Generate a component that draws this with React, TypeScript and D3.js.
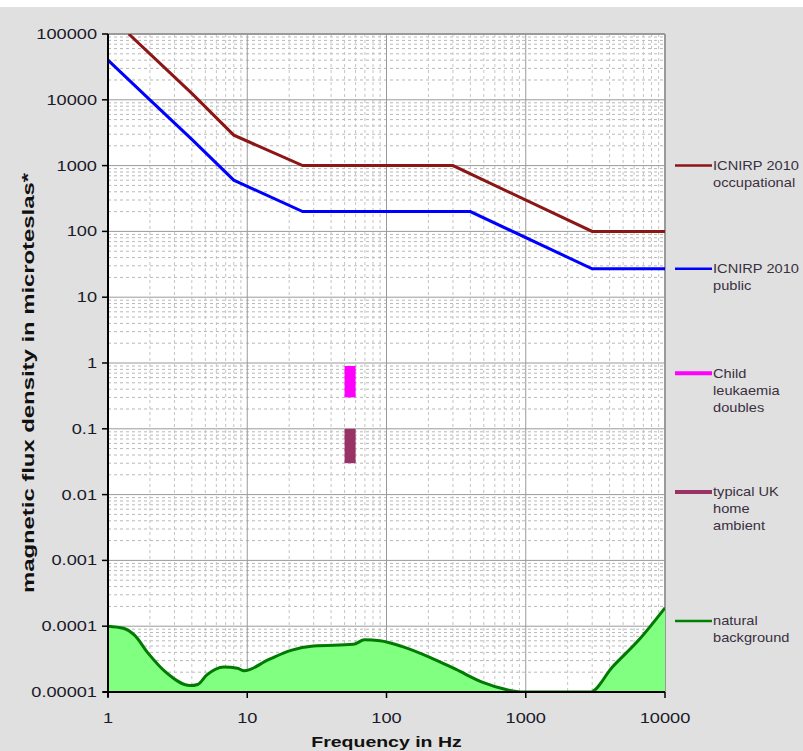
import React from 'react';
import * as d3 from 'd3';

// frequency (Hz) / flux density (microtesla)
const occFreq = [1.41, 2, 4, 8, 25, 300, 3000, 10000];
const occVal = [100000, 50000, 12500, 2900, 1000, 1000, 100, 100];

const pubFreq = [1, 2, 4, 8, 25, 400, 3000, 10000];
const pubVal = [40000, 10000, 2500, 600, 200, 200, 27, 27];

const natFreq = [1, 1.29, 1.55, 1.94, 2.6, 3.9, 4.4, 5.1, 6.8, 8.5, 9.5, 14.2, 20.6, 29.8, 57.8, 69.6, 89.8, 130, 203, 316, 492, 710, 955, 2900, 4190, 6500, 10000];
const natVal = [1e-4, 9.3e-5, 7.3e-5, 3.9e-5, 2.0e-5, 1.25e-5, 1.3e-5, 1.8e-5, 2.4e-5, 2.3e-5, 2.1e-5, 3.1e-5, 4.3e-5, 5.0e-5, 5.3e-5, 6.2e-5, 6.0e-5, 4.9e-5, 3.4e-5, 2.2e-5, 1.4e-5, 1.1e-5, 1.0e-5, 1.0e-5, 2.4e-5, 6.2e-5, 1.9e-4];

// bars at mains frequency
const barFreq = [50, 60];
const childRange = [0.3, 0.9];
const homeRange = [0.03, 0.1];

const yTicks = [100000, 10000, 1000, 100, 10, 1, 0.1, 0.01, 0.001, 0.0001, 0.00001];
const yTickLabels = ['100000', '10000', '1000', '100', '10', '1', '0.1', '0.01', '0.001', '0.0001', '0.00001'];
const xTicks = [1, 10, 100, 1000, 10000];
const xTickLabels = ['1', '10', '100', '1000', '10000'];

const legendItems = [
  { lines: ['ICNIRP 2010', 'occupational'], color: '#8c1616', w: 2.5, v: 1000 },
  { lines: ['ICNIRP 2010', 'public'], color: '#0000ff', w: 2.5, v: 27 },
  { lines: ['Child', 'leukaemia', 'doubles'], color: '#ff00ff', w: 4, v: 0.7 },
  { lines: ['typical UK', 'home', 'ambient'], color: '#993366', w: 4, v: 0.011 },
  { lines: ['natural', 'background'], color: '#008000', w: 2.5, v: 0.00012 },
];

const W = 803;
const H = 751;
const left = 108, right = 665, top = 34, bottom = 692;
const font = "Arial, 'Liberation Sans', sans-serif";
const SX = 1.3;

export default function App() {
  const x = d3.scaleLog().domain([1, 10000]).range([left, right]);
  const y = d3.scaleLog().domain([0.00001, 100000]).range([bottom, top]);

  const line = d3.line<[number, number]>().x(d => x(d[0])).y(d => y(d[1]));
  const smooth = d3.line<[number, number]>().x(d => x(d[0])).y(d => y(d[1])).curve(d3.curveMonotoneX);
  const area = d3.area<[number, number]>().x(d => x(d[0])).y0(bottom).y1(d => y(d[1])).curve(d3.curveMonotoneX);

  const occ = occFreq.map((f, i) => [f, occVal[i]] as [number, number]);
  const pub = pubFreq.map((f, i) => [f, pubVal[i]] as [number, number]);
  const nat = natFreq.map((f, i) => [f, natVal[i]] as [number, number]);

  // minor gridlines 2..9 within each decade
  const minorX: number[] = [];
  for (let e = 0; e < 4; e++) for (let m = 2; m <= 9; m++) minorX.push(m * Math.pow(10, e));
  const minorY: number[] = [];
  for (let e = -5; e < 5; e++) for (let m = 2; m <= 9; m++) minorY.push(m * Math.pow(10, e));

  return (
    <svg width={W} height={H} style={{ position: 'absolute', left: 0, top: 0, fontFamily: font }}>
      <rect x={0} y={0} width={W} height={H} fill="#ffffff" />
      <rect x={0} y={7} width={W} height={H - 7} fill="#e0e0e0" />
      <defs>
        <clipPath id="plot">
          <rect x={left} y={top} width={right - left} height={bottom - top} />
        </clipPath>
      </defs>
      <rect x={left} y={top} width={right - left} height={bottom - top} fill="#ffffff" />

      {/* grid */}
      <g>
        {minorY.map((v, i) => (
          <line key={'my' + i} x1={left} x2={right} y1={y(v)} y2={y(v)} stroke="#b8b8b8" strokeWidth={1} strokeDasharray="3,3" />
        ))}
        {minorX.map((v, i) => (
          <line key={'mx' + i} x1={x(v)} x2={x(v)} y1={top} y2={bottom} stroke="#c4c4c4" strokeWidth={1} strokeDasharray="3,3" />
        ))}
        {yTicks.map((v, i) => (
          <line key={'gy' + i} x1={left} x2={right} y1={y(v)} y2={y(v)} stroke="#9a9a9a" strokeWidth={1} />
        ))}
        {xTicks.map((v, i) => (
          <line key={'gx' + i} x1={x(v)} x2={x(v)} y1={top} y2={bottom} stroke="#9a9a9a" strokeWidth={1} />
        ))}
        <line x1={left} x2={right} y1={top} y2={top} stroke="#9a9a9a" strokeWidth={2} />
        <line x1={right} x2={right} y1={top} y2={bottom} stroke="#9a9a9a" strokeWidth={2} />
      </g>

      {/* series */}
      <g clipPath="url(#plot)">
        <path d={area(nat) || ''} fill="#80ff80" />
        <path d={smooth(nat) || ''} fill="none" stroke="#007a00" strokeWidth={3} />
        <path d={line(occ) || ''} fill="none" stroke="#8c1616" strokeWidth={3} />
        <path d={line(pub) || ''} fill="none" stroke="#0000ff" strokeWidth={3} />
        <rect x={x(barFreq[0])} y={y(childRange[1])} width={x(barFreq[1]) - x(barFreq[0])}
          height={y(childRange[0]) - y(childRange[1])} fill="#ff00ff" />
        <rect x={x(barFreq[0])} y={y(homeRange[1])} width={x(barFreq[1]) - x(barFreq[0])}
          height={y(homeRange[0]) - y(homeRange[1])} fill="#993366" />
      </g>

      {/* axes */}
      <line x1={left} x2={left} y1={top} y2={bottom + 5} stroke="#000" strokeWidth={2} />
      <line x1={left - 5} x2={right} y1={bottom} y2={bottom} stroke="#000" strokeWidth={2} />
      {yTicks.map((v, i) => (
        <g key={'yt' + i}>
          <line x1={left - 6} x2={left} y1={y(v)} y2={y(v)} stroke="#000" strokeWidth={1.5} />
          <text transform={`translate(${left - 11},${y(v) + 5}) scale(${SX},1)`} textAnchor="end"
            fontSize={14} fill="#1a1a2a">{yTickLabels[i]}</text>
        </g>
      ))}
      {xTicks.map((v, i) => (
        <g key={'xt' + i}>
          <line x1={x(v)} x2={x(v)} y1={bottom} y2={bottom + 6} stroke="#000" strokeWidth={1.5} />
          <text transform={`translate(${x(v)},${bottom + 31}) scale(${SX},1)`} textAnchor="middle"
            fontSize={14} fill="#1a1a2a">{xTickLabels[i]}</text>
        </g>
      ))}

      <text transform={`translate(${(left + right) / 2},${H - 4}) scale(${SX},1)`} textAnchor="middle"
        fontSize={15} fontWeight="bold" fill="#111">Frequency in Hz</text>
      <text transform={`translate(34,${(top + bottom) / 2 + 20}) rotate(-90)`} textAnchor="middle"
        fontSize={16} fontWeight="bold" fill="#111" textLength={420} lengthAdjust="spacingAndGlyphs">
        magnetic flux density in microteslas*
      </text>

      {/* legend */}
      {legendItems.map((it, i) => {
        const ly = y(it.v);
        return (
          <g key={'lg' + i}>
            <line x1={675} x2={712} y1={ly} y2={ly} stroke={it.color} strokeWidth={it.w} />
            {it.lines.map((t, j) => (
              <text key={j} transform={`translate(713,${ly + 4.5 + j * 17}) scale(1.22,1)`}
                fontSize={12} fill="#3a3040">{t}</text>
            ))}
          </g>
        );
      })}
    </svg>
  );
}
